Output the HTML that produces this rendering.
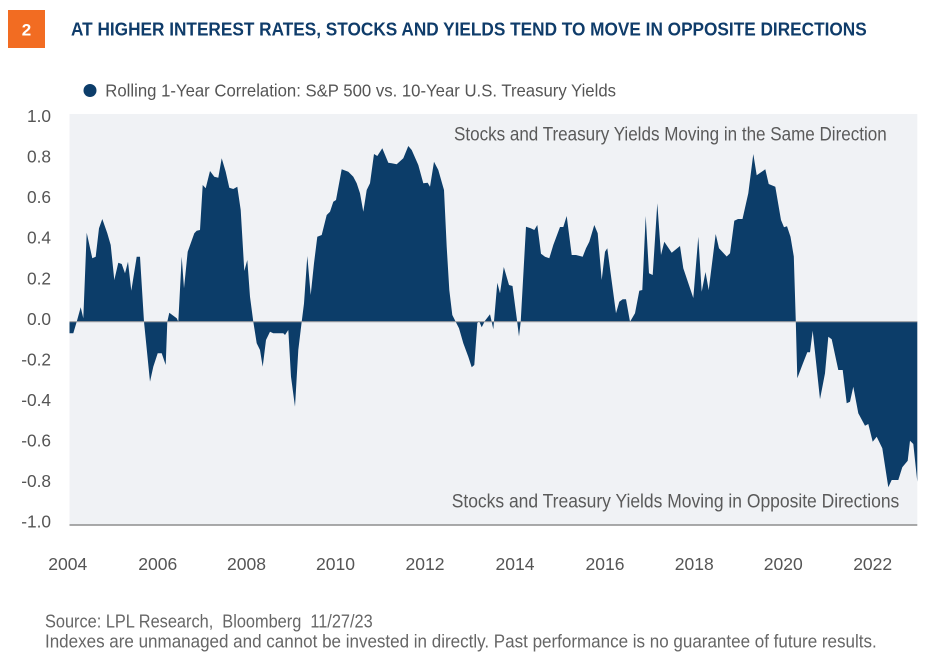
<!DOCTYPE html>
<html>
<head>
<meta charset="utf-8">
<style>
  html,body{margin:0;padding:0;background:#ffffff;}
  svg{display:block;}
  text{font-family:"Liberation Sans",sans-serif;}
</style>
</head>
<body>
<svg width="925" height="664" viewBox="0 0 925 664" xmlns="http://www.w3.org/2000/svg">
  <rect x="0" y="0" width="925" height="664" fill="#ffffff"/>
  <!-- header badge -->
  <rect x="8" y="10" width="37" height="38" fill="#f26c22"/>
  <text x="26.5" y="35.5" font-size="17" font-weight="bold" fill="#ffffff" text-anchor="middle">2</text>
  <text x="71" y="35.7" font-size="18.6" font-weight="bold" fill="#0f3c6a" textLength="795.7" lengthAdjust="spacingAndGlyphs">AT HIGHER INTEREST RATES, STOCKS AND YIELDS TEND TO MOVE IN OPPOSITE DIRECTIONS</text>

  <!-- legend -->
  <circle cx="90" cy="90.5" r="6.5" fill="#0c3d6a"/>
  <text x="105.3" y="96.5" font-size="17.8" fill="#555555" textLength="510.7" lengthAdjust="spacingAndGlyphs">Rolling 1-Year Correlation: S&amp;P 500 vs. 10-Year U.S. Treasury Yields</text>

  <!-- plot background -->
  <rect x="69.5" y="114" width="847.8" height="411" fill="#f0f2f5"/>

  <!-- annotations -->
  <text x="454" y="140.7" font-size="19.3" fill="#5a5a5a" textLength="432.7" lengthAdjust="spacingAndGlyphs">Stocks and Treasury Yields Moving in the Same Direction</text>

  <!-- series -->
  <path fill="#0c3d69" d="M69.5,321.7 L69.5,333.3 L73.3,333.3 L76.7,321.7 L80.7,307.3 L83.3,318.3 L86.7,232.7 L92.3,258.3 L95.7,256.7 L99,228.3 L102.3,219 L107.3,233.3 L110.7,245 L114.3,280 L118.3,262.7 L121.7,264 L125,273.3 L128,261.7 L131.3,290.7 L136.7,256.7 L140,256.7 L144,321.7
  L150,381.7 L153.3,366.7 L157.7,353.3 L161.7,353.3 L165.7,365 L167.3,321.7 L169.3,312.7 L176.7,318.3 L178.3,321.7
  L181.7,256.7 L184,288.3 L187.7,251.7 L194.3,233.3 L196.7,230.7 L200,230 L202.7,185 L205.7,188.3 L210,171 L214.3,176.7 L218.3,177.7 L221.7,158.3 L225.7,171.7 L229.3,187.7 L233.3,189 L237.3,186.7 L240.7,210 L244.3,271 L247.3,260 L250,296.7 L253.3,321.7
  L256.7,343.3 L260,350 L262.7,366.7 L266,340 L270,331.7 L273.3,333.3 L283.3,333.3 L285,335 L288.3,330 L291,376.7 L295,406.7 L298.3,350 L301.7,321.7
  L304,303.5 L307.3,256 L310.7,295 L314,263.3 L317.3,236.7 L321.7,235 L326.7,215 L330,211.7 L333.3,201.7 L336,200 L341.7,169.3 L348.3,171.7 L353.3,176.7 L356.7,183.3 L360,193.3 L363.3,211.7 L366.7,190 L370,183.3 L374,154 L377.3,156 L382.3,148.3 L388.3,162.7 L391.7,163.3 L396.7,164.3 L403.3,158.3 L408.3,146 L411.7,150 L418.3,165 L423.3,183.3 L427.7,182.7 L430,186.7 L434,161.7 L438.3,170 L444,190 L446.7,246.7 L449.3,290 L452.3,315 L455.7,321.7
  L459,328.3 L463.3,343.3 L468.3,356.7 L471.7,367.3 L474.3,365 L477.3,323.3 L479,320.7 L481.7,327.3 L485,320.7 L490,314.3 L491.7,321.7 L493.3,329.3 L497.3,282.7 L500,293.3 L503.8,267 L509,285 L512.5,286 L516.7,318 L519,336.5 L520.7,321.7
  L526,226.7 L530.7,228.3 L534.3,230 L537.3,225 L541,253.7 L545,256.7 L549.3,258.3 L553.3,245 L560,227 L563.3,227 L566.7,216 L571.7,255 L576,255 L582.7,256.7 L586,248.3 L589.3,241.7 L594.3,225 L597.7,233.3 L601.7,280 L605,251.7 L607.3,248.3 L616,313.3 L619.3,301.7 L622.7,299.3 L626,299.3 L630,321.7 L635,313.3 L639.3,290.7 L642.3,290 L645.7,216 L649,273.3 L652.7,275 L657.3,203.3 L661,255 L664.3,241.7 L671.7,252.7 L680,246 L683.3,268.3 L693.3,298 L698.3,236.7 L701.7,291.7 L705.5,272 L708.7,290 L715.7,234 L719,248.3 L726.7,256.5 L730,253.3 L734.3,220.7 L738,219 L742.5,219 L748.3,193.3 L753.3,154 L756.7,175.3 L765.3,169.3 L768.7,184 L775.3,186.7 L781,220 L784,227.3 L787,226.3 L790.5,236.7 L793.8,256.5 L795.8,321.7
  L797.3,378.3 L802.7,364 L807.3,352.3 L810,352.3 L812.7,330.7 L820,399.3 L825,373.3 L828.3,336.7 L831.7,339.3 L838.3,370 L842.7,370 L846.7,403.3 L850,401.7 L853.3,386.7 L858.3,413.3 L865,425.7 L868.3,424 L872.7,441.7 L876.7,436.7 L882.3,448.3 L888.3,487.3 L891.7,480 L898.3,480 L902.3,467.3 L907.7,460.7 L910,440.7 L913.3,444 L917.3,481.7 L917.3,321.7 Z"/>

  <!-- zero line -->
  <line x1="69.5" y1="321.7" x2="917.3" y2="321.7" stroke="#9a9ca0" stroke-width="1.2"/>
  <!-- x axis line -->
  <line x1="69.5" y1="525" x2="917.3" y2="525" stroke="#8e8e8e" stroke-width="1.5"/>

  <text x="451.7" y="507.3" font-size="19.3" fill="#5a5a5a" textLength="447.6" lengthAdjust="spacingAndGlyphs">Stocks and Treasury Yields Moving in Opposite Directions</text>

  <!-- y labels -->
  <g font-size="17.3" fill="#555555" text-anchor="end">
    <text x="51" y="122">1.0</text>
    <text x="51" y="162.6">0.8</text>
    <text x="51" y="203.1">0.6</text>
    <text x="51" y="243.7">0.4</text>
    <text x="51" y="284.3">0.2</text>
    <text x="51" y="324.9">0.0</text>
    <text x="51" y="365.4">-0.2</text>
    <text x="51" y="406">-0.4</text>
    <text x="51" y="446.6">-0.6</text>
    <text x="51" y="487.1">-0.8</text>
    <text x="51" y="527.7">-1.0</text>
  </g>

  <!-- x labels -->
  <g font-size="17.8" fill="#555555" text-anchor="middle">
    <text x="67.8" y="570" textLength="39" lengthAdjust="spacingAndGlyphs">2004</text>
    <text x="157.8" y="570" textLength="39" lengthAdjust="spacingAndGlyphs">2006</text>
    <text x="246.5" y="570" textLength="39" lengthAdjust="spacingAndGlyphs">2008</text>
    <text x="335.5" y="570" textLength="39" lengthAdjust="spacingAndGlyphs">2010</text>
    <text x="425" y="570" textLength="39" lengthAdjust="spacingAndGlyphs">2012</text>
    <text x="515" y="570" textLength="39" lengthAdjust="spacingAndGlyphs">2014</text>
    <text x="605" y="570" textLength="39" lengthAdjust="spacingAndGlyphs">2016</text>
    <text x="694.3" y="570" textLength="39" lengthAdjust="spacingAndGlyphs">2018</text>
    <text x="783.3" y="570" textLength="39" lengthAdjust="spacingAndGlyphs">2020</text>
    <text x="872.7" y="570" textLength="39" lengthAdjust="spacingAndGlyphs">2022</text>
  </g>

  <!-- footer -->
  <text x="45" y="627.3" font-size="18.3" fill="#666666" textLength="327.7" lengthAdjust="spacingAndGlyphs">Source: LPL Research,&#160; Bloomberg&#160; 11/27/23</text>
  <text x="45" y="647.5" font-size="18.3" fill="#666666" textLength="831.7" lengthAdjust="spacingAndGlyphs">Indexes are unmanaged and cannot be invested in directly. Past performance is no guarantee of future results.</text>
</svg>
</body>
</html>
